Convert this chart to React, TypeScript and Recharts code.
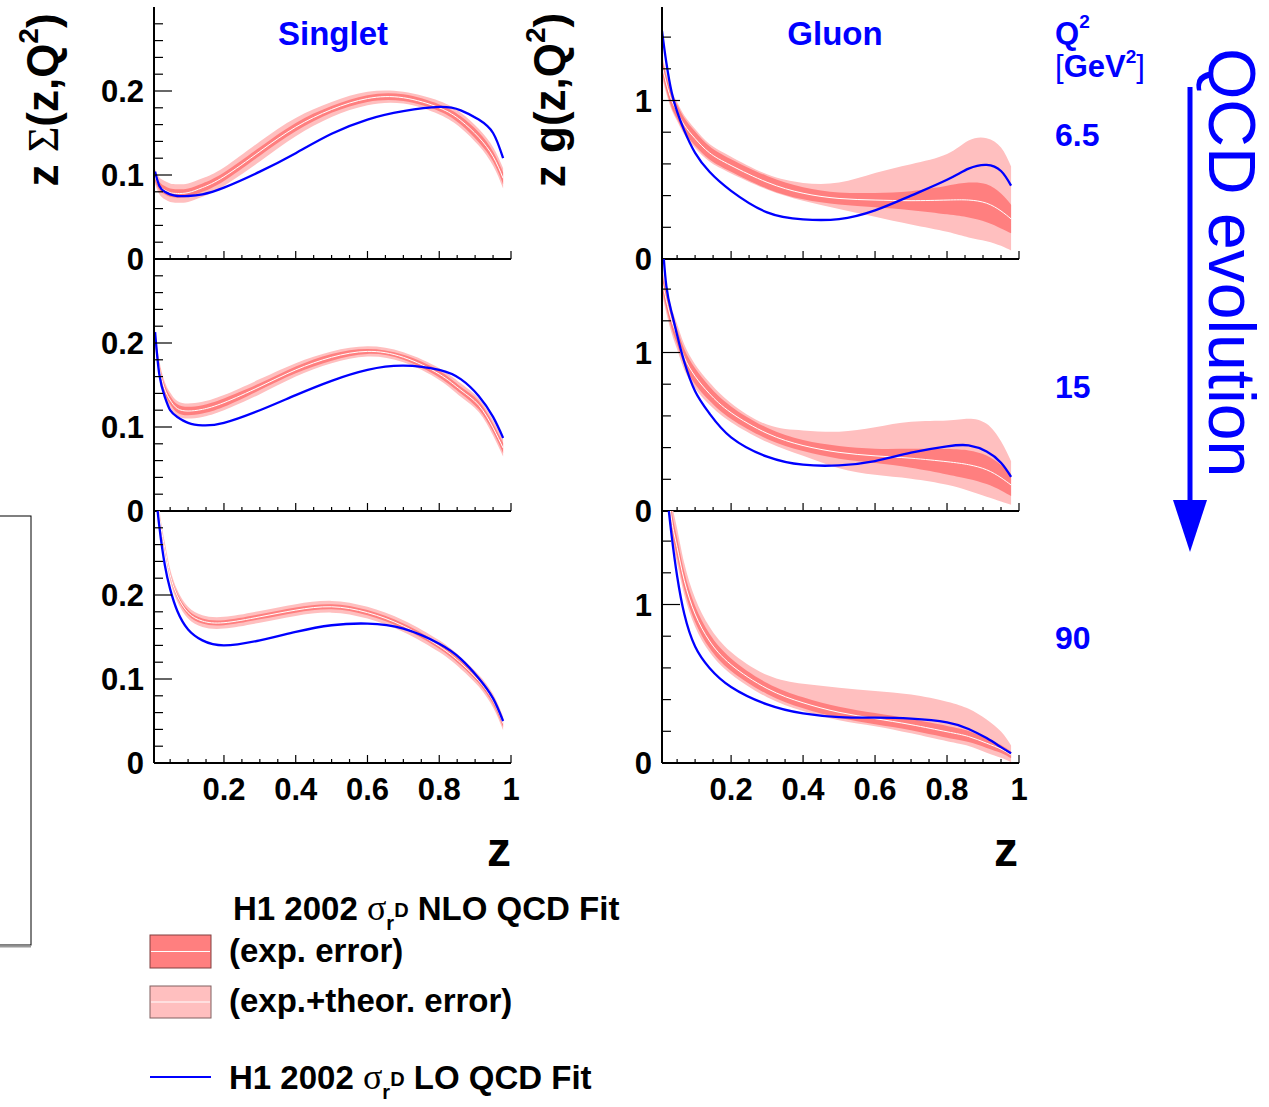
import React from "react";
import { ComposedChart, Area, Line, XAxis, YAxis } from "recharts";

// common z grid (momentum fraction)
const zGrid = [0.008, 0.02, 0.035, 0.05, 0.07, 0.1, 0.14, 0.2, 0.3, 0.4, 0.5, 0.6, 0.7, 0.8, 0.86, 0.91, 0.95, 0.978];

// Singlet, Q2 = 6.5
const sig65Nlo = [0.098, 0.087, 0.082, 0.079, 0.078, 0.079, 0.085, 0.098, 0.128, 0.157, 0.178, 0.191, 0.192, 0.18, 0.165, 0.145, 0.122, 0.096];
const sig65Lo = [0.104, 0.087, 0.08, 0.077, 0.075, 0.075, 0.077, 0.085, 0.104, 0.126, 0.149, 0.166, 0.176, 0.181, 0.177, 0.166, 0.15, 0.12];
const sig65Exp = [0.006, 0.005, 0.005, 0.005, 0.005, 0.005, 0.005, 0.005, 0.005, 0.005, 0.004, 0.004, 0.004, 0.004, 0.005, 0.006, 0.006, 0.007];
const sig65Tot = [0.009, 0.01, 0.011, 0.011, 0.011, 0.011, 0.011, 0.011, 0.012, 0.011, 0.009, 0.008, 0.007, 0.008, 0.009, 0.01, 0.011, 0.012];

// Gluon, Q2 = 6.5
const glu65Nlo = [1.22, 1.11, 1.0, 0.93, 0.845, 0.76, 0.67, 0.59, 0.484, 0.415, 0.382, 0.372, 0.368, 0.372, 0.372, 0.352, 0.303, 0.253];
const glu65Lo = [1.44, 1.24, 1.05, 0.93, 0.81, 0.67, 0.55, 0.43, 0.294, 0.25, 0.252, 0.307, 0.4, 0.5, 0.57, 0.594, 0.555, 0.463];
const glu65Exp = [0.045, 0.045, 0.045, 0.045, 0.045, 0.045, 0.042, 0.04, 0.04, 0.038, 0.038, 0.045, 0.06, 0.09, 0.11, 0.12, 0.11, 0.09];
const glu65TotUp = [0.07, 0.065, 0.06, 0.06, 0.06, 0.06, 0.055, 0.055, 0.05, 0.065, 0.1, 0.17, 0.23, 0.29, 0.375, 0.41, 0.4, 0.33];
const glu65TotDn = [0.07, 0.065, 0.06, 0.06, 0.06, 0.06, 0.055, 0.05, 0.045, 0.047, 0.066, 0.105, 0.15, 0.2, 0.236, 0.24, 0.22, 0.2];

// Singlet, Q2 = 15
const sig15Nlo = [0.206, 0.17, 0.145, 0.132, 0.122, 0.119, 0.121, 0.129, 0.148, 0.168, 0.183, 0.19, 0.183, 0.163, 0.144, 0.126, 0.099, 0.075];
const sig15Lo = [0.213, 0.162, 0.136, 0.12, 0.112, 0.105, 0.102, 0.105, 0.12, 0.138, 0.155, 0.168, 0.173, 0.168, 0.157, 0.137, 0.112, 0.087];
const sig15Exp = [0.006, 0.005, 0.005, 0.005, 0.005, 0.005, 0.005, 0.005, 0.004, 0.004, 0.004, 0.003, 0.003, 0.004, 0.004, 0.005, 0.005, 0.006];
const sig15Tot = [0.01, 0.009, 0.009, 0.009, 0.009, 0.009, 0.009, 0.009, 0.009, 0.008, 0.007, 0.006, 0.006, 0.007, 0.008, 0.008, 0.009, 0.01];

// Gluon, Q2 = 15
const glu15Nlo = [1.45, 1.33, 1.2, 1.1, 0.97, 0.85, 0.74, 0.62, 0.49, 0.413, 0.37, 0.348, 0.333, 0.311, 0.292, 0.26, 0.21, 0.164];
const glu15Lo = [1.75, 1.42, 1.25, 1.11, 0.94, 0.756, 0.615, 0.465, 0.343, 0.292, 0.288, 0.315, 0.368, 0.408, 0.414, 0.375, 0.305, 0.216];
const glu15Exp = [0.05, 0.05, 0.05, 0.05, 0.05, 0.05, 0.045, 0.04, 0.035, 0.035, 0.04, 0.045, 0.06, 0.08, 0.09, 0.09, 0.08, 0.07];
const glu15TotUp = [0.08, 0.08, 0.08, 0.08, 0.08, 0.075, 0.07, 0.06, 0.055, 0.095, 0.13, 0.18, 0.23, 0.26, 0.29, 0.29, 0.23, 0.15];
const glu15TotDn = [0.08, 0.08, 0.08, 0.08, 0.08, 0.075, 0.07, 0.06, 0.055, 0.065, 0.1, 0.12, 0.13, 0.146, 0.165, 0.17, 0.15, 0.124];

// Singlet, Q2 = 90
const sig90Nlo = [0.36, 0.295, 0.256, 0.224, 0.199, 0.179, 0.169, 0.167, 0.174, 0.182, 0.186, 0.179, 0.163, 0.139, 0.119, 0.098, 0.074, 0.047];
const sig90Lo = [0.33, 0.281, 0.236, 0.207, 0.181, 0.159, 0.146, 0.14, 0.146, 0.156, 0.164, 0.166, 0.16, 0.142, 0.124, 0.101, 0.077, 0.05];
const sig90Exp = [0.003, 0.003, 0.003, 0.003, 0.003, 0.003, 0.003, 0.003, 0.003, 0.003, 0.003, 0.003, 0.003, 0.003, 0.003, 0.003, 0.004, 0.004];
const sig90Tot = [0.008, 0.008, 0.007, 0.007, 0.007, 0.007, 0.007, 0.007, 0.007, 0.007, 0.007, 0.007, 0.007, 0.007, 0.007, 0.007, 0.008, 0.008];

// Gluon, Q2 = 90
const glu90Nlo = [2.3, 1.85, 1.53, 1.36, 1.15, 0.94, 0.77, 0.62, 0.47, 0.38, 0.32, 0.28, 0.242, 0.197, 0.167, 0.125, 0.088, 0.05];
const glu90Lo = [2.1, 1.75, 1.43, 1.18, 0.94, 0.735, 0.6, 0.48, 0.37, 0.313, 0.29, 0.286, 0.28, 0.257, 0.215, 0.157, 0.1, 0.061];
const glu90Exp = [0.06, 0.06, 0.06, 0.06, 0.055, 0.05, 0.045, 0.04, 0.035, 0.035, 0.035, 0.035, 0.035, 0.037, 0.035, 0.03, 0.025, 0.02];
const glu90TotUp = [0.12, 0.12, 0.12, 0.12, 0.11, 0.1, 0.09, 0.08, 0.085, 0.12, 0.155, 0.175, 0.19, 0.19, 0.175, 0.15, 0.11, 0.06];
const glu90TotDn = [0.1, 0.1, 0.1, 0.1, 0.09, 0.08, 0.07, 0.06, 0.055, 0.052, 0.05, 0.048, 0.055, 0.06, 0.06, 0.06, 0.055, 0.045];

// axis ticks
const xTicks = [0.05, 0.1, 0.15, 0.2, 0.25, 0.3, 0.35, 0.4, 0.45, 0.5, 0.55, 0.6, 0.65, 0.7, 0.75, 0.8, 0.85, 0.9, 0.95, 1];
const xLabelTicks = [0.2, 0.4, 0.6, 0.8, 1];
const sigmaTicks = [0, 0.02, 0.04, 0.06, 0.08, 0.1, 0.12, 0.14, 0.16, 0.18, 0.2, 0.22, 0.24, 0.26, 0.28];
const sigmaLabelTicks = [0, 0.1, 0.2];
const gluonTicks = [0, 0.2, 0.4, 0.6, 0.8, 1, 1.2, 1.4];
const gluonLabelTicks = [0, 1];

const SANS = "'Liberation Sans', Arial, Helvetica, sans-serif";
const SERIF = "'Liberation Serif', 'DejaVu Serif', serif";
const BLUE = "#0000ff";
const DARK_BAND = "#ff7f7f";
const LIGHT_BAND = "#ffbfbf";
const CURVE = "natural";

const Y_W = 70;
const M_TOP = 6;
const M_RIGHT = 16;
const X_H = 50;
const PLOT_W = 357;
const PLOT_H = 252;

type Row = { z: number; tot: [number, number]; exp: [number, number]; nlo: number; lo: number };

function buildRows(nlo: number[], lo: number[], exp: number[], totUp: number[], totDn: number[] = totUp): Row[] {
  return zGrid.map((z, i) => ({
    z,
    tot: [nlo[i] - totDn[i], nlo[i] + totUp[i]],
    exp: [nlo[i] - exp[i], nlo[i] + exp[i]],
    nlo: nlo[i],
    lo: lo[i],
  }));
}

const has = (list: number[], v: number) => list.some((t) => Math.abs(t - v) < 1e-6);

function XTick(props: any) {
  const { x, y, payload, showLabels } = props;
  const major = has(xLabelTicks, payload.value);
  return (
    <g>
      <line x1={x} x2={x} y1={y} y2={y - (major ? 8 : 4)} stroke="#000" strokeWidth={1.2} />
      {showLabels && major && (
        <text x={x} y={y + 37} textAnchor="middle" fontFamily={SANS} fontWeight="bold" fontSize={31} fill="#000">
          {String(payload.value)}
        </text>
      )}
    </g>
  );
}

function YTick(props: any) {
  const { x, y, payload, labels } = props;
  const major = has(labels, payload.value);
  return (
    <g>
      <line x1={x} x2={x + (major ? 18 : 9)} y1={y} y2={y} stroke="#000" strokeWidth={1.2} />
      {major && (
        <text x={x - 10} y={y + 11} textAnchor="end" fontFamily={SANS} fontWeight="bold" fontSize={31} fill="#000">
          {String(payload.value)}
        </text>
      )}
    </g>
  );
}

type PanelProps = { left: number; top: number; rows: Row[]; kind: "sigma" | "gluon"; xLabels: boolean };

function Panel({ left, top, rows, kind, xLabels }: PanelProps) {
  const yDomain: [number, number] = kind === "sigma" ? [0, 0.3] : [0, 1.59];
  const xDomain: [number, number] = kind === "sigma" ? [0.005, 1] : [0.008, 1];
  const yTicks = kind === "sigma" ? sigmaTicks : gluonTicks;
  const yLabels = kind === "sigma" ? sigmaLabelTicks : gluonLabelTicks;
  return (
    <div style={{ position: "absolute", left: left - Y_W, top: top - M_TOP }}>
      <ComposedChart
        width={Y_W + PLOT_W + M_RIGHT}
        height={M_TOP + PLOT_H + X_H}
        data={rows}
        margin={{ top: M_TOP, right: M_RIGHT, bottom: 0, left: 0 }}
      >
        <XAxis
          dataKey="z"
          type="number"
          domain={xDomain}
          allowDataOverflow
          ticks={xTicks}
          interval={0}
          height={X_H}
          tickSize={0}
          tickMargin={0}
          tickLine={false}
          axisLine={{ stroke: "#000", strokeWidth: 2 }}
          tick={(p: any) => <XTick {...p} showLabels={xLabels} />}
        />
        <XAxis
          xAxisId="top"
          orientation="top"
          type="number"
          domain={xDomain}
          height={0}
          tick={false}
          tickLine={false}
          axisLine={{ stroke: "#555", strokeWidth: 1 }}
        />
        <YAxis
          type="number"
          domain={yDomain}
          allowDataOverflow
          ticks={yTicks}
          interval={0}
          width={Y_W}
          tickSize={0}
          tickMargin={0}
          tickLine={false}
          axisLine={{ stroke: "#000", strokeWidth: 2 }}
          tick={(p: any) => <YTick {...p} labels={yLabels} />}
        />
        <YAxis
          yAxisId="right"
          orientation="right"
          type="number"
          domain={yDomain}
          width={0}
          tick={false}
          tickLine={false}
          axisLine={{ stroke: "#555", strokeWidth: 1 }}
        />
        <Area dataKey="tot" type={CURVE} fill={LIGHT_BAND} fillOpacity={1} stroke="none" isAnimationActive={false} />
        <Area dataKey="exp" type={CURVE} fill={DARK_BAND} fillOpacity={1} stroke="none" isAnimationActive={false} />
        <Line dataKey="nlo" type={CURVE} stroke="#ffffff" strokeWidth={1} dot={false} isAnimationActive={false} />
        <Line dataKey="lo" type={CURVE} stroke={BLUE} strokeWidth={2.3} dot={false} isAnimationActive={false} />
      </ComposedChart>
    </div>
  );
}

const LEFT_X = 153.5;
const RIGHT_X = 661.5;
const ROW_TOPS = [7, 259, 511];

function Overlay() {
  return (
    <svg width={1269} height={1107} style={{ position: "absolute", left: 0, top: 0, pointerEvents: "none" }}>
      {/* y titles */}
      <text transform="translate(58,100) rotate(-90)" textAnchor="middle" fontFamily={SANS} fontWeight="bold" fontSize={44} fill="#000">
        {"z "}
        <tspan fontFamily={SERIF} fontWeight="normal">Σ</tspan>
        <tspan>(z,Q</tspan>
        <tspan dy={-20} fontSize={28}>2</tspan>
        <tspan dy={20}>)</tspan>
      </text>
      <text transform="translate(565,100) rotate(-90)" textAnchor="middle" fontFamily={SANS} fontWeight="bold" fontSize={44} fill="#000">
        {"z g(z,Q"}
        <tspan dy={-20} fontSize={28}>2</tspan>
        <tspan dy={20}>)</tspan>
      </text>

      {/* panel titles */}
      <text x={333} y={45} textAnchor="middle" fontFamily={SANS} fontWeight="bold" fontSize={33} fill={BLUE}>Singlet</text>
      <text x={835} y={45} textAnchor="middle" fontFamily={SANS} fontWeight="bold" fontSize={33} fill={BLUE}>Gluon</text>

      {/* x titles */}
      <text x={511} y={866} textAnchor="end" fontFamily={SANS} fontWeight="bold" fontSize={48} fill="#000">z</text>
      <text x={1018} y={866} textAnchor="end" fontFamily={SANS} fontWeight="bold" fontSize={48} fill="#000">z</text>

      {/* Q2 column */}
      <text x={1055} y={44} fontFamily={SANS} fontWeight="bold" fontSize={31} fill={BLUE}>
        Q<tspan dy={-16} fontSize={19}>2</tspan>
      </text>
      <text x={1055} y={77} fontFamily={SANS} fontWeight="bold" fontSize={31} fill={BLUE}>
        <tspan fontWeight="normal">[</tspan>
        <tspan>GeV</tspan>
        <tspan dy={-14} fontSize={19}>2</tspan>
        <tspan dy={14} fontWeight="normal">]</tspan>
      </text>
      <text x={1055} y={146} fontFamily={SANS} fontWeight="bold" fontSize={32} fill={BLUE}>6.5</text>
      <text x={1055} y={398} fontFamily={SANS} fontWeight="bold" fontSize={32} fill={BLUE}>15</text>
      <text x={1055} y={649} fontFamily={SANS} fontWeight="bold" fontSize={32} fill={BLUE}>90</text>

      {/* QCD evolution arrow */}
      <line x1={1190} x2={1190} y1={87} y2={505} stroke={BLUE} strokeWidth={5} />
      <polygon points="1173,500 1207,500 1190,552" fill={BLUE} />
      <text transform="translate(1209,48) rotate(90)" fontFamily={SANS} fontSize={66} fill={BLUE}>QCD evolution</text>

      {/* stray box on the left */}
      <rect x={-10} y={516} width={41} height={429} fill="none" stroke="#000" strokeWidth={1} />
      <line x1={0} x2={31} y1={946.5} y2={946.5} stroke="#999" strokeWidth={2} />

      {/* legend */}
      <text x={233} y={920} fontFamily={SANS} fontWeight="bold" fontSize={33} fill="#000">
        {"H1 2002 "}
        <tspan fontFamily={SERIF} fontWeight="normal" fontSize={36}>σ</tspan>
        <tspan dy={10} fontSize={20}>r</tspan>
        <tspan dy={-13} fontSize={20}>D</tspan>
        <tspan dy={3}>{" NLO QCD Fit"}</tspan>
      </text>
      <rect x={150} y={935} width={61} height={33} fill={DARK_BAND} stroke="#804040" strokeWidth={1} />
      <line x1={151} x2={210} y1={951.5} y2={951.5} stroke="#fff" strokeWidth={1} />
      <text x={229} y={962} fontFamily={SANS} fontWeight="bold" fontSize={33} fill="#000">(exp. error)</text>
      <rect x={150} y={986} width={61} height={32} fill={LIGHT_BAND} stroke="#806060" strokeWidth={1} />
      <line x1={151} x2={210} y1={1002} y2={1002} stroke="#fff" strokeWidth={1} />
      <text x={229} y={1012} fontFamily={SANS} fontWeight="bold" fontSize={33} fill="#000">(exp.+theor. error)</text>
      <line x1={150} x2={211} y1={1077} y2={1077} stroke={BLUE} strokeWidth={2} />
      <text x={229} y={1089} fontFamily={SANS} fontWeight="bold" fontSize={33} fill="#000">
        {"H1 2002 "}
        <tspan fontFamily={SERIF} fontWeight="normal" fontSize={36}>σ</tspan>
        <tspan dy={10} fontSize={20}>r</tspan>
        <tspan dy={-13} fontSize={20}>D</tspan>
        <tspan dy={3}>{" LO QCD Fit"}</tspan>
      </text>
    </svg>
  );
}

function App() {
  const sig65 = buildRows(sig65Nlo, sig65Lo, sig65Exp, sig65Tot);
  const glu65 = buildRows(glu65Nlo, glu65Lo, glu65Exp, glu65TotUp, glu65TotDn);
  const sig15 = buildRows(sig15Nlo, sig15Lo, sig15Exp, sig15Tot);
  const glu15 = buildRows(glu15Nlo, glu15Lo, glu15Exp, glu15TotUp, glu15TotDn);
  const sig90 = buildRows(sig90Nlo, sig90Lo, sig90Exp, sig90Tot);
  const glu90 = buildRows(glu90Nlo, glu90Lo, glu90Exp, glu90TotUp, glu90TotDn);

  return (
    <div style={{ position: "absolute", left: 0, top: 0, width: 1269, height: 1107, background: "#fff", overflow: "hidden" }}>
      <Panel left={LEFT_X} top={ROW_TOPS[0]} rows={sig65} kind="sigma" xLabels={false} />
      <Panel left={RIGHT_X} top={ROW_TOPS[0]} rows={glu65} kind="gluon" xLabels={false} />
      <Panel left={LEFT_X} top={ROW_TOPS[1]} rows={sig15} kind="sigma" xLabels={false} />
      <Panel left={RIGHT_X} top={ROW_TOPS[1]} rows={glu15} kind="gluon" xLabels={false} />
      <Panel left={LEFT_X} top={ROW_TOPS[2]} rows={sig90} kind="sigma" xLabels={true} />
      <Panel left={RIGHT_X} top={ROW_TOPS[2]} rows={glu90} kind="gluon" xLabels={true} />
      <Overlay />
    </div>
  );
}

export default App;
